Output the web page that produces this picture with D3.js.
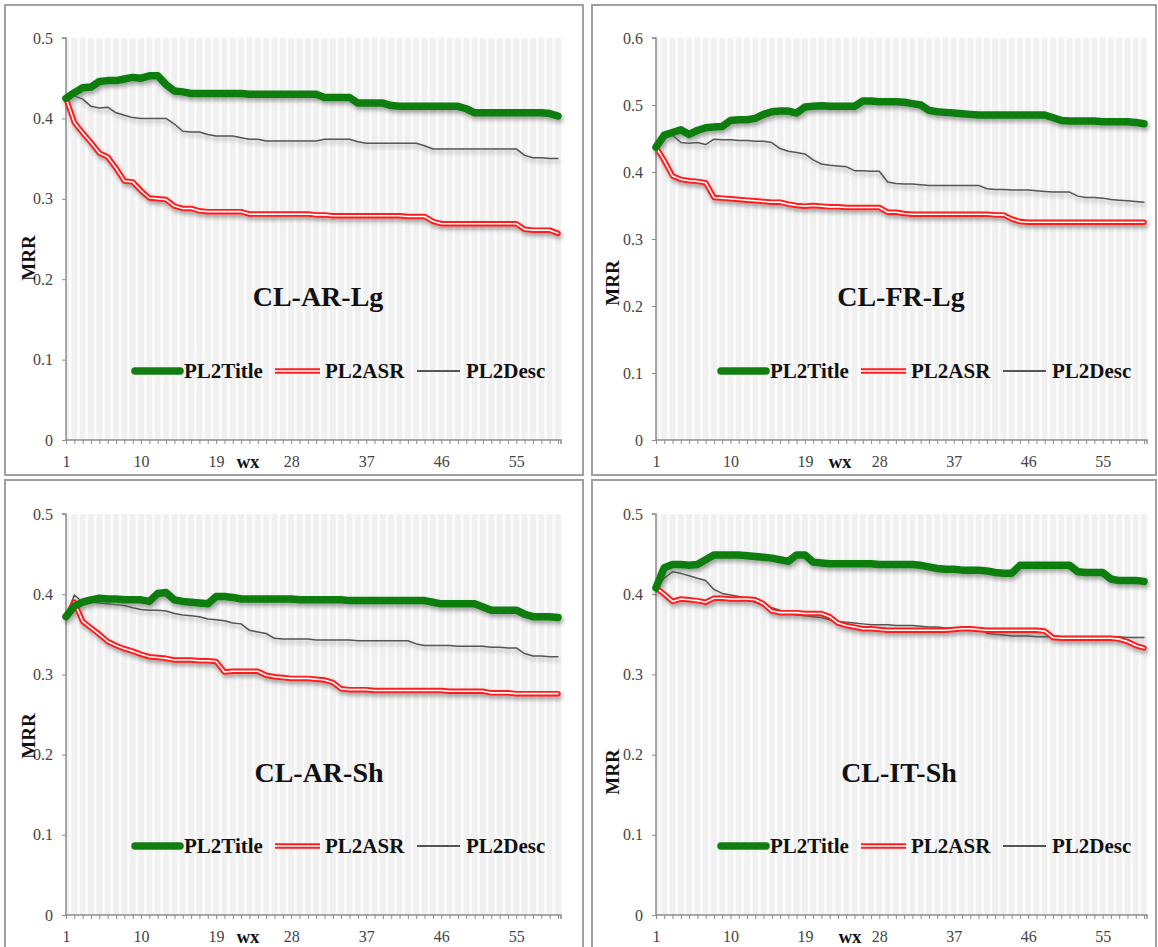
<!DOCTYPE html>
<html>
<head>
<meta charset="utf-8">
<script src="https://cdn.jsdelivr.net/npm/d3@7"></script>
<style>
  html, body { margin: 0; padding: 0; background: #fff; }
  svg { display: block; }
  text { font-family: "Liberation Serif", "Times New Roman", serif; }
</style>
</head>
<body>
<svg id="chart" width="1158" height="947"></svg>
<script>
// ---------------- DATA ----------------
const categories = [1,2,3,4,5,6,7,8,9,10,11,12,13,14,15,16,17,18,19,20,
  21,22,23,24,25,26,27,28,29,30,31,32,33,34,35,36,37,38,39,40,
  41,42,43,44,45,46,47,48,49,50,51,52,53,54,55,56,57,58,59,60];
const tickLabels = [1, 10, 19, 28, 37, 46, 55];
const seriesNames = ["PL2Title", "PL2ASR", "PL2Desc"];
const panelTitles = ["CL-AR-Lg", "CL-FR-Lg", "CL-AR-Sh", "CL-IT-Sh"];
const yMaxima = [0.5, 0.6, 0.5, 0.5];
const yTicksSmall = [0, 0.1, 0.2, 0.3, 0.4, 0.5];
const yTicksLarge = [0, 0.1, 0.2, 0.3, 0.4, 0.5, 0.6];

// CL-AR-Lg
const arLgTitle = [0.425,0.432,0.438,0.439,0.446,0.447,0.447,0.449,0.451,0.450,
 0.453,0.453,0.442,0.434,0.433,0.431,0.431,0.431,0.431,0.431,
 0.431,0.431,0.430,0.430,0.430,0.430,0.430,0.430,0.430,0.430,
 0.430,0.426,0.426,0.426,0.426,0.419,0.419,0.419,0.419,0.416,
 0.415,0.415,0.415,0.415,0.415,0.415,0.415,0.415,0.412,0.407,
 0.407,0.407,0.407,0.407,0.407,0.407,0.407,0.407,0.406,0.403];
const arLgASR = [0.425,0.395,0.382,0.370,0.357,0.352,0.338,0.322,0.321,0.310,
 0.301,0.300,0.299,0.291,0.288,0.288,0.285,0.284,0.284,0.284,
 0.284,0.284,0.281,0.281,0.281,0.281,0.281,0.281,0.281,0.281,
 0.280,0.280,0.279,0.279,0.279,0.279,0.279,0.279,0.279,0.279,
 0.279,0.278,0.278,0.278,0.272,0.269,0.269,0.269,0.269,0.269,
 0.269,0.269,0.269,0.269,0.269,0.262,0.261,0.261,0.261,0.257];
const arLgDesc = [0.425,0.428,0.424,0.415,0.413,0.414,0.407,0.404,0.401,0.400,
 0.400,0.400,0.400,0.393,0.384,0.383,0.383,0.380,0.378,0.378,
 0.378,0.376,0.374,0.374,0.372,0.372,0.372,0.372,0.372,0.372,
 0.372,0.374,0.374,0.374,0.374,0.371,0.369,0.369,0.369,0.369,
 0.369,0.369,0.369,0.366,0.362,0.362,0.362,0.362,0.362,0.362,
 0.362,0.362,0.362,0.362,0.362,0.354,0.351,0.351,0.350,0.350];

// CL-FR-Lg
const frLgTitle = [0.437,0.455,0.459,0.463,0.456,0.462,0.466,0.467,0.468,0.477,
 0.478,0.478,0.480,0.486,0.490,0.491,0.491,0.488,0.497,0.498,
 0.499,0.498,0.498,0.498,0.498,0.506,0.506,0.505,0.505,0.505,
 0.504,0.502,0.500,0.492,0.490,0.489,0.488,0.487,0.486,0.485,
 0.485,0.485,0.485,0.485,0.485,0.485,0.485,0.485,0.481,0.477,
 0.476,0.476,0.476,0.476,0.475,0.475,0.475,0.475,0.474,0.472];
const frLgASR = [0.437,0.417,0.394,0.389,0.387,0.386,0.384,0.362,0.361,0.360,
 0.359,0.358,0.357,0.356,0.355,0.355,0.352,0.350,0.349,0.350,
 0.349,0.348,0.348,0.347,0.347,0.347,0.347,0.347,0.340,0.340,
 0.338,0.337,0.337,0.337,0.337,0.337,0.337,0.337,0.337,0.337,
 0.337,0.336,0.336,0.330,0.326,0.325,0.325,0.325,0.325,0.325,
 0.325,0.325,0.325,0.325,0.325,0.325,0.325,0.325,0.325,0.325];
const frLgDesc = [0.437,0.450,0.455,0.444,0.443,0.444,0.441,0.449,0.448,0.448,
 0.447,0.447,0.446,0.446,0.444,0.435,0.431,0.429,0.427,0.418,
 0.412,0.410,0.409,0.408,0.402,0.402,0.401,0.401,0.385,0.383,
 0.382,0.382,0.381,0.380,0.380,0.380,0.380,0.380,0.380,0.380,
 0.375,0.374,0.374,0.373,0.373,0.373,0.372,0.371,0.370,0.370,
 0.370,0.364,0.362,0.362,0.361,0.359,0.358,0.357,0.356,0.355];

// CL-AR-Sh
const arShTitle = [0.372,0.385,0.390,0.393,0.395,0.394,0.394,0.393,0.393,0.393,
 0.391,0.401,0.402,0.393,0.391,0.390,0.389,0.388,0.397,0.397,
 0.396,0.394,0.394,0.394,0.394,0.394,0.394,0.394,0.393,0.393,
 0.393,0.393,0.393,0.393,0.392,0.392,0.392,0.392,0.392,0.392,
 0.392,0.392,0.392,0.392,0.390,0.388,0.388,0.388,0.388,0.388,
 0.384,0.380,0.380,0.380,0.380,0.375,0.372,0.372,0.372,0.371];
const arShASR = [0.372,0.390,0.366,0.358,0.350,0.341,0.336,0.332,0.329,0.325,
 0.322,0.321,0.320,0.318,0.318,0.318,0.317,0.317,0.316,0.303,
 0.304,0.304,0.304,0.304,0.299,0.297,0.296,0.295,0.295,0.295,
 0.294,0.293,0.290,0.282,0.281,0.281,0.281,0.280,0.280,0.280,
 0.280,0.280,0.280,0.280,0.280,0.280,0.279,0.279,0.279,0.279,
 0.279,0.277,0.277,0.277,0.276,0.276,0.276,0.276,0.276,0.276];
const arShDesc = [0.372,0.399,0.390,0.390,0.389,0.388,0.387,0.386,0.383,0.381,
 0.380,0.380,0.379,0.376,0.374,0.373,0.372,0.369,0.368,0.367,
 0.364,0.363,0.355,0.353,0.351,0.345,0.344,0.344,0.344,0.344,
 0.343,0.343,0.343,0.343,0.343,0.342,0.342,0.342,0.342,0.342,
 0.342,0.342,0.338,0.336,0.336,0.336,0.336,0.335,0.335,0.335,
 0.335,0.334,0.334,0.333,0.333,0.326,0.323,0.323,0.322,0.322];

// CL-IT-Sh
const itShTitle = [0.408,0.433,0.437,0.437,0.436,0.437,0.443,0.449,0.449,0.449,
 0.449,0.448,0.447,0.446,0.445,0.443,0.441,0.449,0.449,0.440,
 0.439,0.438,0.438,0.438,0.438,0.438,0.438,0.437,0.437,0.437,
 0.437,0.437,0.436,0.434,0.432,0.431,0.431,0.430,0.430,0.430,
 0.429,0.427,0.426,0.426,0.436,0.436,0.436,0.436,0.436,0.436,
 0.436,0.428,0.427,0.427,0.427,0.419,0.417,0.417,0.417,0.416];
const itShASR = [0.408,0.400,0.391,0.394,0.393,0.392,0.390,0.395,0.395,0.394,
 0.394,0.394,0.393,0.388,0.379,0.377,0.377,0.377,0.376,0.376,
 0.376,0.372,0.364,0.361,0.359,0.357,0.357,0.356,0.355,0.355,
 0.355,0.355,0.355,0.355,0.355,0.355,0.356,0.357,0.357,0.356,
 0.355,0.355,0.355,0.355,0.355,0.355,0.355,0.354,0.346,0.345,
 0.345,0.345,0.345,0.345,0.345,0.345,0.344,0.341,0.336,0.333];
const itShDesc = [0.408,0.420,0.428,0.426,0.423,0.420,0.417,0.406,0.401,0.399,
 0.397,0.395,0.390,0.386,0.383,0.380,0.376,0.374,0.373,0.372,
 0.371,0.368,0.366,0.365,0.364,0.363,0.362,0.362,0.362,0.361,
 0.361,0.361,0.360,0.359,0.359,0.358,0.358,0.358,0.358,0.358,
 0.351,0.350,0.349,0.348,0.348,0.348,0.347,0.347,0.347,0.347,
 0.347,0.347,0.347,0.347,0.347,0.347,0.347,0.346,0.346,0.346];

const panelSeries = [
  [arLgTitle, arLgASR, arLgDesc],
  [frLgTitle, frLgASR, frLgDesc],
  [arShTitle, arShASR, arShDesc],
  [itShTitle, itShASR, itShDesc]
];

// ---------------- LAYOUT / STYLE ----------------
const layout = [
  {frame:[5,5,578,470],   left:66,  right:558,  top:38,  bottom:440, titleX:318, titleY:306, mrrX:28,  mrrY:258, wxX:248, legendY:371, legendX:132},
  {frame:[592,5,564,470], left:656, right:1144, top:38,  bottom:440, titleX:901, titleY:306, mrrX:612, mrrY:283, wxX:840, legendY:371, legendX:718},
  {frame:[5,480,578,480], left:66,  right:558,  top:514, bottom:915, titleX:319, titleY:782, mrrX:28,  mrrY:736, wxX:248, legendY:846, legendX:132},
  {frame:[592,480,564,480], left:656, right:1144, top:514, bottom:915, titleX:899, titleY:782, mrrX:612, mrrY:772, wxX:850, legendY:846, legendX:718}
];
const GREEN = "#117d11", RED = "#ff1c1c", GREY = "#555555", AXIS = "#8c8c8c";

const svg = d3.select("#chart");
const defs = svg.append("defs");
const f = defs.append("filter").attr("id","shadow")
  .attr("x","-5%").attr("y","-20%").attr("width","110%").attr("height","160%");
f.append("feDropShadow").attr("dx",1.5).attr("dy",3).attr("stdDeviation",2)
  .attr("flood-color","#000").attr("flood-opacity",0.35);

panelSeries.forEach((series, p) => {
  const L = layout[p];
  const g = svg.append("g");

  // frame
  g.append("rect").attr("x",L.frame[0]).attr("y",L.frame[1])
    .attr("width",L.frame[2]).attr("height",L.frame[3])
    .attr("fill","#fff").attr("stroke","#a0a0a0").attr("stroke-width",2);

  const x = d3.scalePoint().domain(categories).range([L.left, L.right]).padding(0);
  const y = d3.scaleLinear().domain([0, yMaxima[p]]).range([L.bottom, L.top]);
  const step = x.step();
  const plotRight = L.right + 3;

  // plot background with vertical stripes
  g.append("rect").attr("x",L.left).attr("y",L.top)
    .attr("width",plotRight - L.left).attr("height",L.bottom - L.top)
    .attr("fill","#f0f0f0");
  g.append("g").selectAll("line").data(categories).join("line")
    .attr("x1", d => x(d) + step/2).attr("x2", d => x(d) + step/2)
    .attr("y1", L.top).attr("y2", L.bottom)
    .attr("stroke","#fcfcfc").attr("stroke-width",2.6)
    .attr("display", d => x(d) + step/2 > plotRight ? "none" : null);

  // axes
  const yTicks = yMaxima[p] > 0.55 ? yTicksLarge : yTicksSmall;
  const yAxis = d3.axisLeft(y).tickValues(yTicks).tickSize(4).tickPadding(9)
    .tickFormat(d => d === 0 ? "0" : d3.format(".1f")(d));
  const ya = g.append("g").attr("transform",`translate(${L.left},0)`).call(yAxis);
  ya.select(".domain").attr("stroke",AXIS).attr("stroke-width",1.5)
    .attr("d", `M-4,${L.top}H0V${L.bottom}`);
  ya.selectAll(".tick line").attr("stroke",AXIS);
  ya.selectAll(".tick text").attr("fill","#444").style("font-size","16px")
    .style("font-family","'Liberation Serif', serif");

  const xAxis = d3.axisBottom(x).tickSize(4).tickPadding(12)
    .tickFormat(d => tickLabels.includes(d) ? d : "");
  const xa = g.append("g").attr("transform",`translate(0,${L.bottom})`).call(xAxis);
  xa.select(".domain").attr("stroke",AXIS).attr("stroke-width",1.5)
    .attr("d", `M${L.left},0H${plotRight}V4`);
  xa.selectAll(".tick line").attr("stroke",AXIS);
  xa.selectAll(".tick text").attr("fill","#444").style("font-size","16px")
    .style("font-family","'Liberation Serif', serif");

  // lines
  const line = d3.line().x((d,i) => x(categories[i])).y(d => y(d));
  const lg = g.append("g").attr("filter","url(#shadow)")
    .attr("fill","none").attr("stroke-linejoin","round").attr("stroke-linecap","round");
  lg.append("path").attr("d", line(series[2])).attr("stroke",GREY).attr("stroke-width",1.5);
  lg.append("path").attr("d", line(series[1])).attr("stroke",RED).attr("stroke-width",5.5);
  lg.append("path").attr("d", line(series[1])).attr("stroke","#fff").attr("stroke-width",1.6);
  lg.append("path").attr("d", line(series[0])).attr("stroke",GREEN).attr("stroke-width",7.5);

  // title
  g.append("text").attr("x",L.titleX).attr("y",L.titleY).attr("text-anchor","middle")
    .style("font-size","28px").style("font-weight","bold").attr("fill","#111")
    .text(panelTitles[p]);

  // axis titles
  g.append("text").attr("transform",`translate(${L.mrrX},${L.mrrY}) rotate(-90)`)
    .attr("text-anchor","middle").attr("dominant-baseline","central")
    .style("font-size","19px").style("font-weight","bold").attr("fill","#111").text("MRR");
  g.append("text").attr("x",L.wxX).attr("y",L.bottom + 28).attr("text-anchor","middle")
    .style("font-size","19px").style("font-weight","bold").attr("fill","#111").text("wx");

  // legend
  const lgd = g.append("g").attr("transform",`translate(${L.legendX},${L.legendY})`);
  lgd.append("line").attr("x1",3).attr("x2",48).attr("y1",0).attr("y2",0)
    .attr("stroke",GREEN).attr("stroke-width",7.5).attr("stroke-linecap","round");
  lgd.append("text").attr("x",52).attr("y",7).style("font-size","21px").style("font-weight","bold")
    .attr("fill","#111").text(seriesNames[0]);
  lgd.append("line").attr("x1",143).attr("x2",188).attr("y1",0).attr("y2",0)
    .attr("stroke",RED).attr("stroke-width",5.5);
  lgd.append("line").attr("x1",143).attr("x2",188).attr("y1",0).attr("y2",0)
    .attr("stroke","#fff").attr("stroke-width",1.6);
  lgd.append("text").attr("x",193).attr("y",7).style("font-size","21px").style("font-weight","bold")
    .attr("fill","#111").text(seriesNames[1]);
  lgd.append("line").attr("x1",285).attr("x2",328).attr("y1",0).attr("y2",0)
    .attr("stroke",GREY).attr("stroke-width",2);
  lgd.append("text").attr("x",334).attr("y",7).style("font-size","21px").style("font-weight","bold")
    .attr("fill","#111").text(seriesNames[2]);
});
</script>
</body>
</html>
